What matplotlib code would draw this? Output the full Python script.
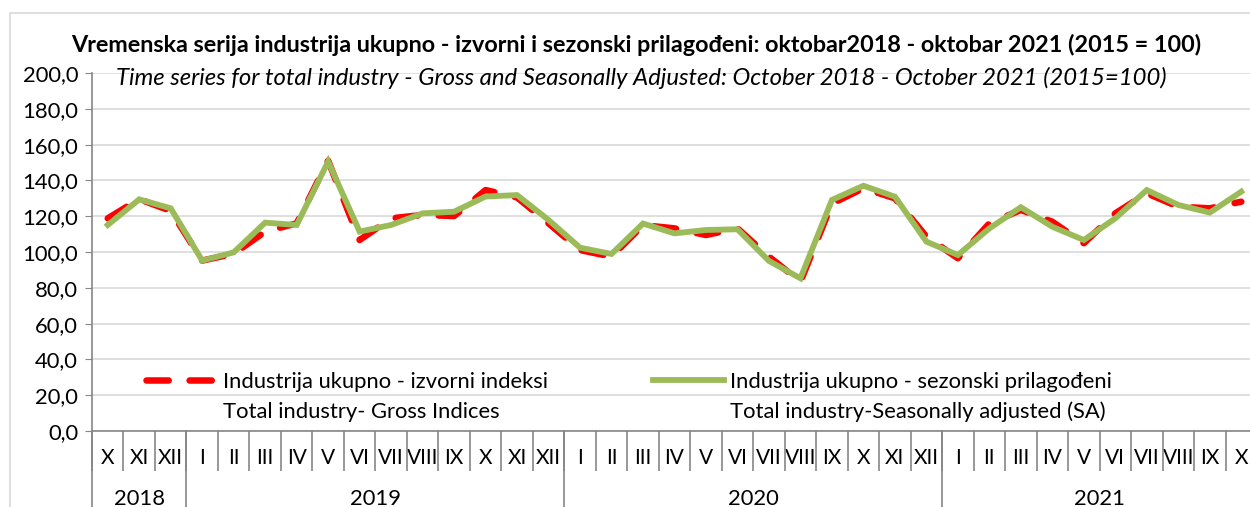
import numpy as np
import matplotlib.pyplot as plt
from matplotlib.lines import Line2D
from matplotlib.patches import Rectangle
import matplotlib.transforms as mtransforms

# --- Data ---
MONTHS = ['X', 'XI', 'XII',
          'I', 'II', 'III', 'IV', 'V', 'VI', 'VII', 'VIII', 'IX', 'X', 'XI', 'XII',
          'I', 'II', 'III', 'IV', 'V', 'VI', 'VII', 'VIII', 'IX', 'X', 'XI', 'XII',
          'I', 'II', 'III', 'IV', 'V', 'VI', 'VII', 'VIII', 'IX', 'X']
YEARS = ['2018', '2019', '2020', '2021']
YEAR_COUNTS = [3, 12, 12, 10]

gross = [118.8, 129.5, 123.0, 95.2, 99.0, 111.4, 116.0, 151.0, 106.7, 118.8,
         120.7, 120.1, 134.6, 130.5, 116.0, 101.1, 97.4, 115.0, 113.2, 109.5,
         113.2, 97.4, 83.4, 127.0, 135.6, 130.0, 108.6, 96.5, 116.0, 123.5,
         116.9, 104.9, 121.6, 132.8, 125.3, 124.4, 128.1]
seas_adj = [115.1, 129.4, 124.4, 95.2, 99.8, 116.4, 115.1, 150.5, 111.4, 115.1,
            121.6, 122.5, 131.0, 131.8, 117.9, 102.4, 98.9, 115.9, 110.4, 112.3,
            112.7, 95.0, 85.3, 129.1, 137.0, 130.9, 105.8, 98.3, 113.2, 125.0,
            114.1, 106.7, 118.8, 134.6, 126.3, 122.0, 133.7]

TITLE = 'Vremenska serija industrija ukupno - izvorni i sezonski prilagođeni: oktobar2018 - oktobar 2021 (2015 = 100)'
SUBTITLE = 'Time series for total industry - Gross and Seasonally Adjusted: October 2018 - October 2021 (2015=100)'

FONT = 'Lato'
FS = 15.8
plt.rcParams['font.family'] = [FONT, 'DejaVu Sans']

fig = plt.figure(figsize=(12.5, 5.07), dpi=100)
fig.patches.append(Rectangle((10 / 1250, -0.1), 1.2, (507 - 13) / 507 + 0.1,
                             transform=fig.transFigure, fill=False,
                             edgecolor='#d9d9d9', linewidth=1.2))

ax = fig.add_axes([92 / 1250, (507 - 431) / 507, 1165 / 1250, 358 / 507])
x = np.arange(len(MONTHS))

ax.plot(x, gross, color='#ff0000', linewidth=4.7, dashes=(3.4, 3.2),
        dash_capstyle='round', solid_capstyle='round',
        label='Industrija ukupno - izvorni indeksi', zorder=3)
ax.plot(x, seas_adj, color='#9bbb59', linewidth=4.2, solid_joinstyle='miter',
        label='Industrija ukupno - sezonski prilagođeni', zorder=4)

ax.set_ylim(0, 200)
ax.set_xlim(-0.5, len(MONTHS) - 0.5)
ax.set_yticks(np.arange(0, 201, 20))
ax.set_yticklabels([f'{v:.1f}'.replace('.', ',') for v in range(0, 201, 20)], fontsize=FS)
ax.yaxis.grid(True, color='#d9d9d9', linewidth=1.2)
ax.set_axisbelow(True)
ax.tick_params(axis='y', length=5, color='#868686', pad=5)

for s in ['top', 'right']:
    ax.spines[s].set_visible(False)
ax.spines['left'].set_color('#868686')
ax.spines['bottom'].set_color('#868686')
ax.spines['left'].set_linewidth(1.2)
ax.spines['bottom'].set_linewidth(1.2)

# month labels and separators
ax.set_xticks(x)
ax.set_xticklabels(MONTHS, fontsize=15)
ax.tick_params(axis='x', which='major', length=0, pad=12)
ax.set_xticks(np.arange(-0.5, len(MONTHS), 1), minor=True)
ax.tick_params(axis='x', which='minor', length=29, width=1.2, color='#868686', direction='out')

# year labels and separators
trans = mtransforms.blended_transform_factory(ax.transData, ax.transAxes)
start = -0.5
for yr, n in zip(YEARS, YEAR_COUNTS):
    ax.plot([start, start], [0, -0.25], transform=trans, color='#868686',
            linewidth=1.2, clip_on=False)
    mid = start + n / 2
    if yr == '2021':
        mid = start + (len(MONTHS) - 0.5 - start) / 2
    ax.text(mid, -0.19, yr, transform=trans, ha='center', va='center', fontsize=FS)
    start += n

# legend: two columns, each with a second text-only line
blank = Line2D([], [], color='none')
h1, h2 = ax.get_lines()[:2]
ax.legend([h1, blank, h2, blank],
          ['Industrija ukupno - izvorni indeksi', 'Total industry- Gross Indices',
           'Industrija ukupno - sezonski prilagođeni', 'Total industry-Seasonally adjusted (SA)'],
          ncol=2, loc='upper left', bbox_to_anchor=(0.039, 0.19), frameon=False,
          fontsize=FS, handlelength=3.2, handletextpad=0.3, columnspacing=4.8,
          labelspacing=0.45, borderaxespad=0)

fig.text(636 / 1250, 1 - 45 / 507, TITLE, ha='center', va='center',
         fontsize=16.8, fontweight='bold')
fig.text(641 / 1250, 1 - 78 / 507, SUBTITLE, ha='center', va='center',
         fontsize=17.2, fontstyle='italic')

fig.savefig('out.png', dpi=100)
